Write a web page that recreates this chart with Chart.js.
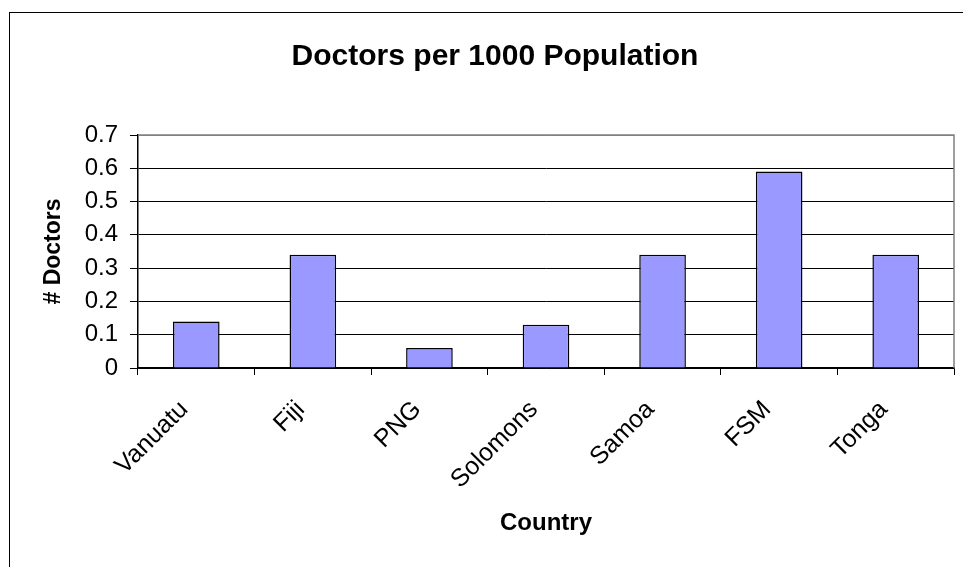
<!DOCTYPE html>
<html>
<head>
<meta charset="utf-8">
<script src="https://cdn.jsdelivr.net/npm/chart.js@4.4.0/dist/chart.umd.min.js"></script>
<style>
	html, body { margin:0; padding:0; background:#fff; overflow:hidden; }
	#frame { position:absolute; left:9px; top:12px; width:1000px; height:600px; border-left:1.5px solid #000; border-top:1.5px solid #000; }
	#wrap { position:absolute; left:0; top:0; width:963px; height:567px; }
</style>
</head>
<body>
<div id="frame"></div>
<div id="wrap"><canvas id="myChart" width="963" height="567"></canvas></div>
<script>
// 데이터
var countries = ['Vanuatu', 'Fiji', 'PNG', 'Solomons', 'Samoa', 'FSM', 'Tonga'];
var doctors = [0.14, 0.34, 0.06, 0.13, 0.34, 0.59, 0.34];
var yTickLabels = ['0', '0.1', '0.2', '0.3', '0.4', '0.5', '0.6', '0.7'];

var fontName = "'Liberation Sans', Arial, sans-serif";

// 플롯 영역 테두리 (회색)
var plotBorder = {
	id: 'plotBorder',
	afterDraw: function(chart){
		var a = chart.chartArea, c = chart.ctx;
		c.save();
		c.strokeStyle = '#808080';
		c.lineWidth = 1.5;
		c.beginPath();
		c.moveTo(a.left, a.top);
		c.lineTo(a.right, a.top);
		c.lineTo(a.right, a.bottom);
		c.stroke();
		c.restore();
	}
};

new Chart(document.getElementById('myChart'), {
	type: 'bar',
	data: {
		labels: countries,
		datasets: [{
			label: '# Doctors',
			data: doctors,
			backgroundColor: '#9999FF',
			borderColor: '#000',
			borderWidth: 1.5,
			categoryPercentage: 1,
			barPercentage: 0.4
		}]
	},
	options: {
		responsive: false,
		animation: false,
		layout: { padding: { left: 36, right: 9, top: 0, bottom: 0 } },
		plugins: {
			legend: { display: false },
			tooltip: { enabled: false },
			title: {
				display: true,
				text: 'Doctors per 1000 Population',
				color: '#000',
				font: { family: fontName, size: 30, weight: 'bold' },
				padding: { top: 39, bottom: 60 }
			}
		},
		scales: {
			x: {
				afterFit: function(scale){ scale.height = 199; },
				grid: { offset: true, drawOnChartArea: false, drawTicks: true, tickLength: 7, color: '#000' },
				border: { color: '#000', width: 1.5 },
				ticks: {
					color: '#000',
					font: { family: fontName, size: 25 },
					minRotation: 45,
					maxRotation: 45,
					padding: 20,
					labelOffset: -12
				},
				title: {
					display: true,
					text: 'Country',
					color: '#000',
					font: { family: fontName, size: 24, weight: 'bold' },
					padding: { top: 0, bottom: 29 }
				}
			},
			y: {
				min: 0,
				max: 0.7,
				afterFit: function(scale){ scale.width = 102; },
				grid: {
					color: function(ctx){ return ctx.tick && ctx.tick.value >= 0.7 ? '#808080' : '#000'; },
					tickColor: '#000',
					tickLength: 8,
					lineWidth: 1
				},
				border: { color: '#000', width: 1.5 },
				ticks: {
					stepSize: 0.1,
					color: '#000',
					padding: 12,
					font: { family: fontName, size: 24 },
					callback: function(v, i){ return yTickLabels[i]; }
				},
				title: {
					display: true,
					text: '# Doctors',
					color: '#000',
					font: { family: fontName, size: 23, weight: 'bold' },
					padding: { top: 4, bottom: 0 }
				}
			}
		}
	},
	plugins: [plotBorder]
});
</script>
</body>
</html>
